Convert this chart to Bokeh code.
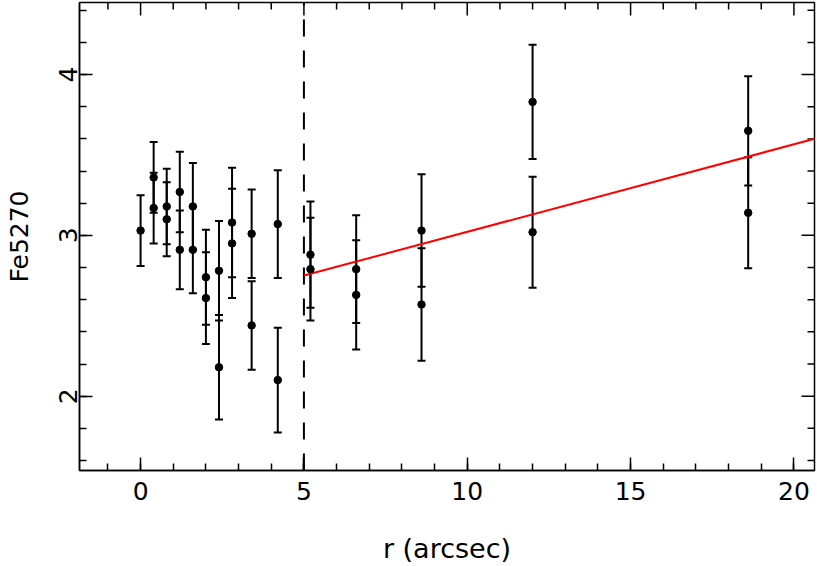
import numpy as np
from bokeh.plotting import figure
from bokeh.models import (Range1d, LinearAxis, SingleIntervalTicker, Whisker,
                          TeeHead, ColumnDataSource)
from bokeh.embed import file_html
from bokeh.resources import INLINE

# ---- data ----
r_arcsec = [0.0, 0.4, 0.4, 0.8, 0.8, 1.2, 1.2, 1.6, 1.6, 2.0, 2.0, 2.4, 2.4,
            2.8, 2.8, 3.4, 3.4, 4.2, 4.2, 5.2, 5.2, 6.6, 6.6, 8.6, 8.6,
            12.0, 12.0, 18.6, 18.6]
fe5270 = [3.03, 3.36, 3.17, 3.18, 3.10, 3.27, 2.91, 3.18, 2.91, 2.74, 2.61,
          2.78, 2.18, 3.08, 2.95, 3.01, 2.44, 3.07, 2.10, 2.88, 2.79, 2.79,
          2.63, 3.03, 2.57, 3.83, 3.02, 3.65, 3.14]
fe5270_err = [0.22, 0.22, 0.22, 0.235, 0.23, 0.25, 0.245, 0.27, 0.27, 0.295,
              0.285, 0.31, 0.325, 0.34, 0.34, 0.275, 0.275, 0.335, 0.325,
              0.33, 0.32, 0.335, 0.34, 0.35, 0.35, 0.355, 0.345, 0.34, 0.345]

r_break = 5.0            # dashed vertical line
fit_intercept = 2.478    # linear fit beyond r_break
fit_slope = 0.0544

x_major_step, x_minor_step = 5, 1
y_major_step, y_minor_step = 1, 0.2

x_label = "r (arcsec)"
y_label = "Fe5270"

X_MIN, X_MAX = -1.87, 20.63
Y_MIN, Y_MAX = 1.538, 4.448

FONT = "DejaVu Sans"
FS = "25px"
TICK_MAJ, TICK_MIN, TICK_W = 13, 7, 1.5

lo = [v - e for v, e in zip(fe5270, fe5270_err)]
hi = [v + e for v, e in zip(fe5270, fe5270_err)]
src = ColumnDataSource(dict(r=r_arcsec, fe=fe5270, lo=lo, hi=hi))

p = figure(width=817, height=566,
           x_range=Range1d(X_MIN, X_MAX), y_range=Range1d(Y_MIN, Y_MAX),
           output_backend="svg", toolbar_location=None,
           x_axis_location=None, y_axis_location=None,
           min_border_left=79, min_border_right=3,
           min_border_top=2, min_border_bottom=96)
p.grid.visible = False
p.outline_line_color = "black"
p.outline_line_width = 1.5
p.background_fill_color = "white"
p.border_fill_color = "white"


def style_axis(ax):
    ax.major_tick_in = TICK_MAJ
    ax.major_tick_out = 0
    ax.minor_tick_in = TICK_MIN
    ax.minor_tick_out = 0
    ax.axis_line_color = "black"
    ax.axis_line_width = 1.5
    ax.major_tick_line_color = "black"
    ax.major_tick_line_width = TICK_W
    ax.minor_tick_line_color = "black"
    ax.minor_tick_line_width = TICK_W
    ax.major_label_text_font = FONT
    ax.major_label_text_font_size = FS
    ax.major_label_text_color = "black"
    ax.axis_label_text_font = FONT
    ax.axis_label_text_font_size = FS
    ax.axis_label_text_font_style = "normal"
    ax.axis_label_text_color = "black"
    ax.axis_label_text_line_height = 0.7


xb = LinearAxis(ticker=SingleIntervalTicker(interval=x_major_step,
                                            num_minor_ticks=int(round(x_major_step / x_minor_step))),
                axis_label=x_label)
style_axis(xb)
xb.axis_label_text_font_size = "27px"
xb.major_label_standoff = 11
xb.axis_label_standoff = 30
p.add_layout(xb, "below")

yl = LinearAxis(ticker=SingleIntervalTicker(interval=y_major_step,
                                            num_minor_ticks=int(round(y_major_step / y_minor_step))),
                axis_label=y_label)
style_axis(yl)
yl.major_label_orientation = "vertical"
yl.major_label_standoff = 2
yl.axis_label_standoff = 23
p.add_layout(yl, "left")

# mirrored ticks on top and right edges (positions from the tick steps)
xs_all = np.arange(np.ceil(X_MIN / x_minor_step) * x_minor_step, X_MAX, x_minor_step)
x_major = [v for v in xs_all if abs(v / x_major_step - round(v / x_major_step)) < 1e-6]
x_minor = [v for v in xs_all if abs(v / x_major_step - round(v / x_major_step)) >= 1e-6]
ys_all = np.arange(np.ceil(Y_MIN / y_minor_step) * y_minor_step, Y_MAX, y_minor_step)
y_major = [v for v in ys_all if abs(v / y_major_step - round(v / y_major_step)) < 1e-6]
y_minor = [v for v in ys_all if abs(v / y_major_step - round(v / y_major_step)) >= 1e-6]

for xs, ln in ((x_major, TICK_MAJ), (x_minor, TICK_MIN)):
    p.ray(x=xs, y=[Y_MAX] * len(xs), length=ln, length_units="screen",
          angle=-np.pi / 2, line_color="black", line_width=TICK_W)
for ys, ln in ((y_major, TICK_MAJ), (y_minor, TICK_MIN)):
    p.ray(x=[X_MAX] * len(ys), y=ys, length=ln, length_units="screen",
          angle=np.pi, line_color="black", line_width=TICK_W)

# dashed separator, drawn upward from the bottom of the frame
p.segment(x0=[r_break], y0=[Y_MIN], x1=[r_break], y1=[Y_MAX],
          line_color="black", line_width=2, line_dash="17 14")

# linear fit
fit_r = [r_break, X_MAX]
fit_fe = [fit_intercept + fit_slope * x for x in fit_r]
p.line(fit_r, fit_fe, line_color="red", line_width=2)

# error bars and points
p.add_layout(Whisker(base="r", lower="lo", upper="hi", source=src,
                     line_color="black", line_width=2,
                     lower_head=TeeHead(size=8, line_color="black", line_width=2),
                     upper_head=TeeHead(size=8, line_color="black", line_width=2)))
p.scatter("r", "fe", source=src, size=7.5, color="black")

open("out.html", "w").write(file_html(p, INLINE))
